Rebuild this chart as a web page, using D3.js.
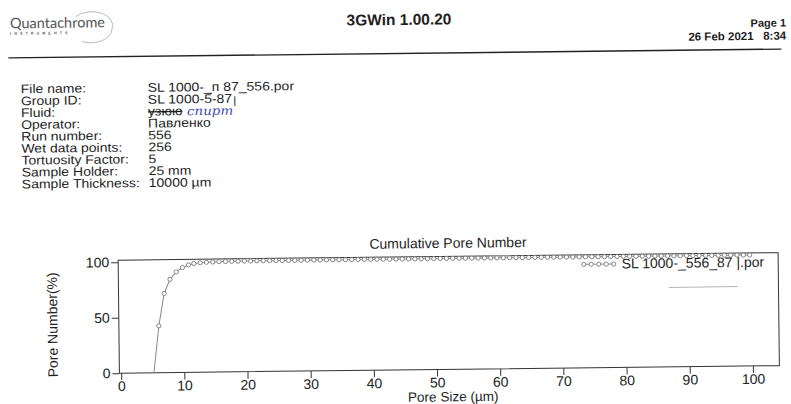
<!DOCTYPE html>
<html>
<head>
<meta charset="utf-8">
<script src="https://cdn.jsdelivr.net/npm/d3@7"></script>
<style>
  html, body { margin: 0; padding: 0; background: #fff; }
  svg { display: block; }
  text { font-family: "Liberation Sans", Arial, sans-serif; fill: #1e1e1e; }
</style>
</head>
<body>
<svg id="page" width="791" height="404"></svg>
<script>
// Cumulative pore number curve (pore size in µm, cumulative share in %)
const poreSize = [
  5.2, 6.05, 6.95, 7.9, 8.9, 9.9, 10.85, 11.7,
  12.7, 13.7, 14.7, 15.7, 16.7, 17.7, 18.7, 19.7, 20.7, 21.7,
  22.7, 23.7, 24.7, 25.7, 26.7, 27.7, 28.7, 29.7,
  30.7, 31.7, 32.7, 33.7, 34.7, 35.7, 36.7, 37.7, 38.7, 39.7,
  40.7, 41.7, 42.7, 43.7, 44.7, 45.7, 46.7, 47.7, 48.7, 49.7,
  50.7, 51.7, 52.7, 53.7, 54.7, 55.7, 56.7, 57.7, 58.7, 59.7,
  60.7, 61.7, 62.7, 63.7, 64.7, 65.7, 66.7, 67.7, 68.7, 69.7,
  70.7, 71.7, 72.7, 73.7, 74.7, 75.7, 76.7, 77.7, 78.7, 79.7,
  80.7, 81.7, 82.7, 83.7, 84.7, 85.7, 86.7, 87.7, 88.7, 89.7,
  90.7, 91.7, 92.7, 93.7, 94.7, 95.7, 96.7, 97.7, 98.7, 99.7
];
const poreNumber = [
  0, 42.2, 71.3, 84.0, 90.6, 94.5, 96.8, 98.0,
  98.6, 99.0, 99.2, 99.4, 99.5, 99.6, 99.6, 99.7, 99.7, 99.8,
  99.8, 99.8, 99.8, 99.8, 99.8, 99.8, 99.8, 99.8,
  99.9, 99.9, 99.9, 99.9, 99.9, 99.9, 99.9, 99.9, 99.9, 99.9,
  99.9, 99.9, 99.9, 99.9, 99.9, 99.9, 99.9, 99.9, 99.9, 99.9,
  100, 100, 100, 100, 100, 100, 100, 100, 100, 100,
  100, 100, 100, 100, 100, 100, 100, 100, 100, 100,
  100, 100, 100, 100, 100, 100, 100, 100, 100, 100,
  100, 100, 100, 100, 100, 100, 100, 100, 100, 100,
  100, 100, 100, 100, 100, 100, 100, 100, 100, 100
];
const xTicks = [0, 10, 20, 30, 40, 50, 60, 70, 80, 90, 100];
const yTicks = [0, 50, 100];

const infoLabels = ["File name:", "Group ID:", "Fluid:", "Operator:", "Run number:",
  "Wet data points:", "Tortuosity Factor:", "Sample Holder:", "Sample Thickness:"];
const infoValues = ["SL 1000-_п 87_556.por", "SL 1000-5-87", "узюю", "Павленко", "556",
  "256", "5", "25 mm", "10000 µm"];

const chartTitle = "Cumulative Pore Number";
const xTitle = "Pore Size (µm)";
const yTitle = "Pore Number(%)";
const seriesName = "SL 1000-_556_87 |.por";

const svg = d3.select("#page");
// the printed sheet sits very slightly tilted
const sheet = svg.append("g").attr("transform", "rotate(-0.65 395 202)");

// ---- report header ----
sheet.append("text").attr("x", 12).attr("y", 24)
  .style("font-family", "Lato, 'Open Sans', sans-serif")
  .style("font-size", "14.5px").style("fill", "#555").text("Quantachrome");
sheet.append("text").attr("x", 12).attr("y", 30.5)
  .style("font-size", "3.8px").style("letter-spacing", "3px").style("fill", "#555")
  .style("font-weight", "bold").text("INSTRUMENTS");
sheet.append("path")
  .attr("d", "M78,13 A21,14 0 0 1 114,26 A21,14 0 0 1 84,38")
  .attr("fill", "none").attr("stroke", "#aaa").attr("stroke-width", 0.8);

sheet.append("text").attr("x", 401).attr("y", 25).attr("text-anchor", "middle")
  .style("font-size", "15.5px").style("font-weight", "bold").text("3GWin 1.00.20");
sheet.append("text").attr("x", 788).attr("y", 31).attr("text-anchor", "end")
  .style("font-size", "11px").style("font-weight", "bold").text("Page 1");
sheet.append("text").attr("x", 788).attr("y", 44).attr("text-anchor", "end")
  .style("font-size", "11.5px").style("font-weight", "bold").attr("xml:space", "preserve")
  .text("26 Feb 2021   8:34");
sheet.append("line").attr("x1", 10).attr("x2", 783).attr("y1", 53.5).attr("y2", 53.5)
  .attr("stroke", "#222").attr("stroke-width", 1.4);

// ---- sample information block (printed slightly wide) ----
const stretch = 1.12;
const info = sheet.append("g").attr("transform", `translate(22,0) scale(${stretch},1)`)
  .style("font-size", "12.5px");
const valX = (149 - 22) / stretch;
infoLabels.forEach((t, i) => {
  info.append("text").attr("x", 0).attr("y", 89 + i * 11.9).text(t);
});
const valueNodes = infoValues.map((t, i) => {
  const tx = info.append("text").attr("x", valX).attr("y", 89 + i * 11.9).text(t);
  if (i === 2) tx.style("text-decoration", "line-through");
  return tx;
});
// handwritten notes
const gidEnd = valX + valueNodes[1].node().getComputedTextLength();
info.append("text").attr("x", gidEnd + 1).attr("y", 89 + 11.9 + 1)
  .style("font-size", "10.5px").text("|");
info.append("text").attr("x", (188 - 22) / stretch).attr("y", 89 + 2 * 11.9)
  .style("font-family", "'DejaVu Serif', serif").style("font-style", "italic")
  .style("font-size", "12px").style("fill", "#3b4aa8").text("спирт");

// ---- chart ----
const plot = { left: 117.5, right: 777.5, top: 257, bottom: 370 };
const x = d3.scaleLinear().domain([-0.27, 104.2]).range([plot.left, plot.right]);
const y = d3.scaleLinear().domain([0, 101.8]).range([plot.bottom, plot.top]);

const chart = sheet.append("g");

chart.append("rect")
  .attr("x", plot.left).attr("y", plot.top)
  .attr("width", plot.right - plot.left).attr("height", plot.bottom - plot.top)
  .attr("fill", "none").attr("stroke", "#333").attr("stroke-width", 1);

const xAxis = chart.append("g").attr("transform", `translate(0,${plot.bottom})`)
  .call(d3.axisBottom(x).tickValues(xTicks).tickSize(7).tickPadding(1));
const yAxis = chart.append("g").attr("transform", `translate(${plot.left},0)`)
  .call(d3.axisLeft(y).tickValues(yTicks).tickSize(7).tickPadding(2));
[xAxis, yAxis].forEach(a => {
  a.select(".domain").remove();
  a.selectAll("line").attr("stroke", "#333");
  a.selectAll("text").style("font-size", "14px").style("fill", "#222")
    .style("font-family", "'Liberation Sans', Arial, sans-serif");
});

chart.append("text").attr("x", (plot.left + plot.right) / 2).attr("y", 248.5)
  .attr("text-anchor", "middle").style("font-size", "14px").text(chartTitle);
chart.append("text").attr("x", 451).attr("y", 402)
  .attr("text-anchor", "middle").style("font-size", "13.5px").text(xTitle);
chart.append("text").attr("transform", "translate(56,321) rotate(-90)")
  .attr("text-anchor", "middle").style("font-size", "14px").text(yTitle);

const pts = poreSize.map((d, i) => ({ x: d, y: poreNumber[i] }));
chart.append("path").datum(pts)
  .attr("d", d3.line().x(d => x(d.x)).y(d => y(d.y)))
  .attr("fill", "none").attr("stroke", "#8a8a8a").attr("stroke-width", 1);
chart.append("g").selectAll("circle").data(pts.filter(d => d.y > 0)).join("circle")
  .attr("cx", d => x(d.x)).attr("cy", d => y(d.y)).attr("r", 2.1)
  .attr("fill", "#fff").attr("stroke", "#7a7a7a").attr("stroke-width", 0.9);

// legend
const lg = chart.append("g");
const lgX = [583, 590.5, 598, 605.5, 613];
lg.append("line").attr("x1", lgX[0]).attr("x2", lgX[4]).attr("y1", 266.5).attr("y2", 266.5)
  .attr("stroke", "#8a8a8a");
lg.selectAll("circle").data(lgX).join("circle")
  .attr("cx", d => d).attr("cy", 266.5).attr("r", 2.1)
  .attr("fill", "#fff").attr("stroke", "#7a7a7a").attr("stroke-width", 0.9);
lg.append("text").attr("x", 621).attr("y", 271).style("font-size", "14px").text(seriesName);
lg.append("line").attr("x1", 668).attr("x2", 737).attr("y1", 290.5).attr("y2", 290.5)
  .attr("stroke", "#b5b5b5").attr("stroke-width", 1);
</script>
</body>
</html>
